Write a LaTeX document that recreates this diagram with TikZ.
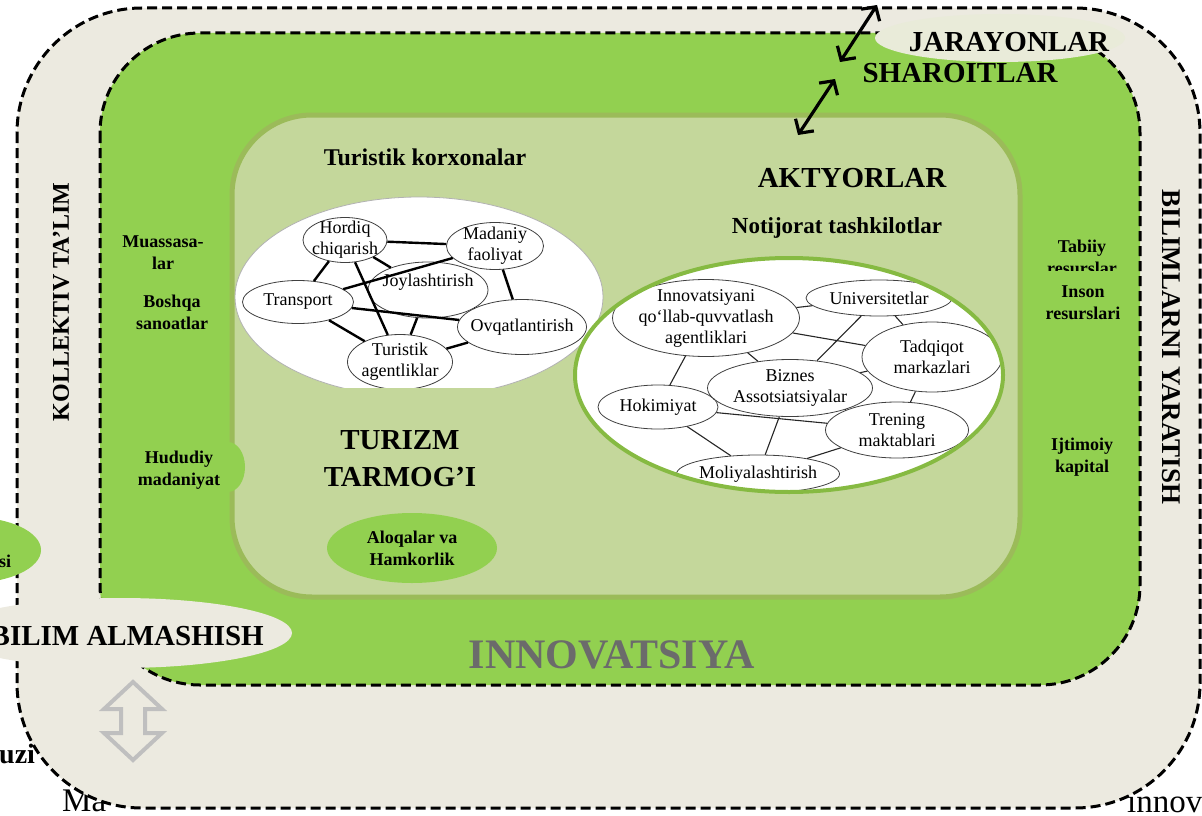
\documentclass[tikz,border=0pt]{standalone}
\usepackage{fontspec}
\setmainfont{Liberation Serif}
\usetikzlibrary{shapes.geometric,arrows.meta}
\definecolor{beige}{HTML}{ECEAE0}
\definecolor{grn}{HTML}{92D050}
\definecolor{lgrn}{HTML}{C4D79B}
\definecolor{lgrnb}{HTML}{9BBB59}
\definecolor{jbg}{HTML}{E9EBD9}
\definecolor{ringg}{HTML}{86BA42}
\newcommand\fsz[2]{\fontsize{#1}{#2}\selectfont}
\begin{document}
\begin{tikzpicture}[x=1pt,y=-1pt,
  dashb/.style={draw=black, line width=3pt, dash pattern=on 10pt off 5pt},
  lbl/.style={font=\bfseries\fsz{18}{22}, align=center, inner sep=0pt},
  hdr/.style={font=\bfseries\fsz{24}{28}, inner sep=0pt},
  big/.style={font=\bfseries\fsz{29}{37}, align=center, inner sep=0pt},
  net/.style={ellipse, draw=black!75, line width=0.8pt, fill=white, inner sep=0pt},
  nett/.style={font=\fsz{18}{21}, align=center, inner sep=0pt},
  edgeL/.style={line width=2.4pt, black},
  edgeR/.style={line width=1.1pt, black!85},
  dbl/.style={line width=3.2pt, {Straight Barb[length=10pt,width=22pt]}-{Straight Barb[length=10pt,width=22pt]}},
  doctxt/.style={inner sep=0pt, font=\fsz{33}{36}}]
\useasboundingbox (0,0) rectangle (1202,816);

% document text behind the figure
\node[doctxt, font=\bfseries\fsz{28}{32}, anchor=base west] (uzi) at (-1,763) {uzi};
\node[doctxt, anchor=base west] (ma) at (62,811) {Ma};
\node[doctxt, anchor=base west] (innov) at (1127,812) {innov};

% frames
\draw[dashb, fill=beige, rounded corners=125pt] (17,8) rectangle (1200,808);
\draw[dashb, fill=grn, rounded corners=100pt] (100,33) rectangle (1140,685);
\draw[draw=lgrnb, line width=5pt, fill=lgrn, rounded corners=80pt] (232,115) rectangle (1020,597);
\fill[grn] (228,467) ellipse [x radius=17pt, y radius=25pt];

% Aloqalar
\node[ellipse, fill=grn, minimum width=170pt, minimum height=70pt, inner sep=0pt, lbl] (alo) at (412,548) {Aloqalar va\\Hamkorlik};

% left network
\begin{scope}
\clip (0,0) rectangle (1202,387);
\fill[white] (419,297) ellipse [x radius=184pt, y radius=100pt];
\draw[gray!60, line width=0.8pt] (419,297) ellipse [x radius=184pt, y radius=100pt];
\node[net, minimum width=84pt, minimum height=45pt, label={[nett]center:{Hordiq\\chiqarish}}] (hor) at (345,240) {};
\node[net, minimum width=97pt, minimum height=47pt, label={[nett]center:{Madaniy\\faoliyat}}] (mad) at (495,246) {};
\node[net, minimum width=111pt, minimum height=43pt, label={[nett]center:{Transport}}] (tra) at (298,302) {};
\node[net, minimum width=120pt, minimum height=56pt, label={[nett, yshift=8pt]center:{Joylashtirish}}] (joy) at (428,290) {};
\node[net, minimum width=129pt, minimum height=55pt, label={[nett]center:{Ovqatlantirish}}] (ovq) at (522,327) {};
\node[net, minimum width=105pt, minimum height=55pt, label={[nett]center:{Turistik\\agentliklar}}] (tur) at (400,362) {};
\draw[edgeL] (hor) -- (mad);
\draw[edgeL] (hor) -- (joy);
\draw[edgeL] (hor) -- (tra);
\draw[edgeL] (hor) -- (tur);
\draw[edgeL] (tra) -- (mad);
\draw[edgeL] (mad) -- (ovq);
\draw[edgeL] (tra) -- (ovq);
\draw[edgeL] (tra) -- (tur);
\draw[edgeL] (joy) -- (tur);
\draw[edgeL] (joy) -- (ovq);
\draw[edgeL] (tur) -- (ovq);
\end{scope}

% right network
\begin{scope}
\clip (789,375) ellipse [x radius=214pt, y radius=117pt];
\fill[white] (789,375) ellipse [x radius=214pt, y radius=117pt];
\node[net, minimum width=146pt, minimum height=36pt, label={[nett]center:{Universitetlar}}] (uni) at (879,298) {};
\node[net, minimum width=187pt, minimum height=77pt, label={[nett]center:{Innovatsiyani\\qo‘llab-quvvatlash\\agentliklari}}] (inn) at (706,318) {};
\node[net, minimum width=140pt, minimum height=70pt, label={[nett]center:{Tadqiqot\\markazlari}}] (tad) at (932,357) {};
\node[net, minimum width=120pt, minimum height=44pt, label={[nett]center:{Hokimiyat}}] (hok) at (658,407) {};
\node[net, minimum width=143pt, minimum height=56pt, label={[nett]center:{Trening\\maktablari}}] (tre) at (897,430) {};
\node[net, minimum width=163pt, minimum height=38pt, label={[nett]center:{Moliyalashtirish}}] (mol) at (758,474) {};
\node[net, minimum width=165pt, minimum height=57pt, label={[nett]center:{Biznes\\Assotsiatsiyalar}}] (biz) at (790,388) {};
\draw[edgeR] (inn) -- (uni);
\draw[edgeR] (inn) -- (tad);
\draw[edgeR] (inn) -- (biz);
\draw[edgeR] (inn) -- (hok);
\draw[edgeR] (uni) -- (biz);
\draw[edgeR] (uni) -- (tad);
\draw[edgeR] (biz) -- (tad);
\draw[edgeR] (hok) -- (biz);
\draw[edgeR] (hok) -- (tre);
\draw[edgeR] (hok) -- (mol);
\draw[edgeR] (biz) -- (mol);
\draw[edgeR] (biz) -- (tre);
\draw[edgeR] (tad) -- (tre);
\draw[edgeR] (tre) -- (mol);
\end{scope}
\draw[ringg, line width=4pt] (789,375) ellipse [x radius=214pt, y radius=117pt];

% overlay ellipses
\fill[jbg] (1000,38) ellipse [x radius=125pt, y radius=24pt];
\fill[beige] (120,633) ellipse [x radius=172pt, y radius=35pt];
\fill[grn] (-30,550) ellipse [x radius=71pt, y radius=33pt];

% texts
\node[hdr, anchor=base] (tk) at (425,165) {Turistik korxonalar};
\node[hdr, font=\bfseries\fsz{29}{34}, anchor=base] (akt) at (852,187) {AKTYORLAR};
\node[hdr, font=\bfseries\fsz{23}{28}, anchor=base] (nt) at (837,233) {Notijorat tashkilotlar};
\node[big] (tt) at (400,459) {TURIZM\\TARMOG’I};
\node[lbl] (mua) at (163,253) {Muassasa-\\lar};
\node[lbl] (bos) at (172,312) {Boshqa\\sanoatlar};
\node[lbl] (hud) at (179,470) {Hududiy\\madaniyat};
\node[lbl] (tab) at (1082,257) {Tabiiy\\resurslar};
\fill[grn] (1040,271) rectangle (1125,284);
\node[lbl] (ins) at (1083,303) {Inson\\resurslari};
\node[lbl] (ijt) at (1082,457) {Ijtimoiy\\kapital};
\node[lbl, anchor=base west] (si) at (-1,567) {si};
\node[hdr, rotate=90] (kt) at (61,302) {KOLLEKTIV TA’LIM};
\node[hdr, font=\bfseries\fsz{27}{30}, rotate=-90] (by) at (1171,347) {BILIMLARNI YARATISH};
\node[hdr, font=\bfseries\fsz{29}{34}, anchor=base] (jar) at (1009,52) {JARAYONLAR};
\node[hdr, font=\bfseries\fsz{29}{34}, anchor=base] (sha) at (960,82) {SHAROITLAR};
\node[hdr, font=\bfseries\fsz{29}{34}, anchor=base east] (bil) at (264,645) {BILIM ALMASHISH};
\node[hdr, font=\bfseries\fsz{42}{46}, anchor=base, text=black!58] (inv) at (612,668) {INNOVATSIYA};

% arrows
\coordinate (a1s) at (877,5);
\coordinate (a1e) at (840,62);
\coordinate (a2s) at (835,79);
\coordinate (a2e) at (798,135);
\draw[dbl] (a1s) -- (a1e);
\draw[dbl] (a2s) -- (a2e);

% grey double arrow
\draw[black!25, line width=4pt, line join=miter] (133,682) -- (162,709) -- (145,709) -- (145,733) -- (162,733) -- (133,760) -- (104,733) -- (121,733) -- (121,709) -- (104,709) -- cycle;
\end{tikzpicture}
\end{document}
